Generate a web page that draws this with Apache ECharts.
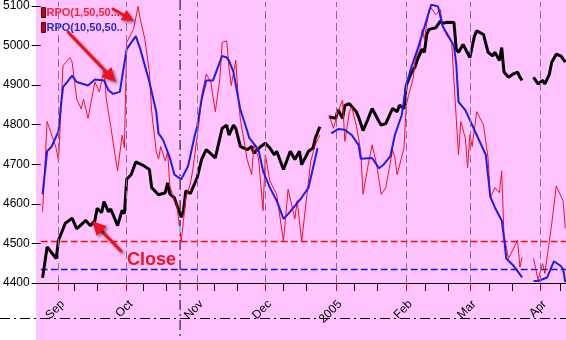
<!DOCTYPE html>
<html>
<head>
<meta charset="utf-8">
<script src="https://cdn.jsdelivr.net/npm/echarts@6/dist/echarts.min.js"></script>
<style>
  html, body { margin: 0; padding: 0; background: #ffffff; }
  #chart { width: 566px; height: 340px; background: linear-gradient(to right, #ffffff 36px, #ffc4ff 36px); }
</style>
</head>
<body>
<div id="chart"></div>
<script>
// ---- axis ticks and labels ----
const monthStarts = ['2004-09-01', '2004-10-01', '2004-11-01', '2004-12-01',
                     '2005-01-01', '2005-02-01', '2005-03-01', '2005-04-01'];
const minorTickDates = ['2004-09-10', '2004-09-20', '2004-10-10', '2004-10-20', '2004-11-10', '2004-11-20',
                        '2004-12-10', '2004-12-20', '2005-01-10', '2005-01-20', '2005-02-10', '2005-02-20',
                        '2005-03-10', '2005-03-20', '2005-04-10'];
const monthNames = ['Jan', 'Feb', 'Mar', 'Apr', 'May', 'Jun', 'Jul', 'Aug', 'Sep', 'Oct', 'Nov', 'Dec'];
const yTicks = [4400, 4500, 4600, 4700, 4800, 4900, 5000, 5100];

// ---- Close ----
const closeDates = [
  '2004-08-25', '2004-08-27', '2004-08-31',
  '2004-09-01', '2004-09-04', '2004-09-07', '2004-09-09', '2004-09-13', '2004-09-15', '2004-09-17', '2004-09-18', '2004-09-20', '2004-09-21', '2004-09-23', '2004-09-24', '2004-09-27', '2004-09-29', '2004-09-30',
  '2004-10-01', '2004-10-03', '2004-10-05', '2004-10-08', '2004-10-11', '2004-10-12', '2004-10-15', '2004-10-18', '2004-10-19', '2004-10-20', '2004-10-22', '2004-10-25', '2004-10-26', '2004-10-27', '2004-10-29',
  '2004-11-01', '2004-11-03', '2004-11-05', '2004-11-09', '2004-11-12', '2004-11-14', '2004-11-15', '2004-11-17', '2004-11-18', '2004-11-20', '2004-11-23', '2004-11-25', '2004-11-26', '2004-11-29',
  '2004-12-01', '2004-12-03', '2004-12-05', '2004-12-06', '2004-12-09', '2004-12-12', '2004-12-14', '2004-12-16', '2004-12-17', '2004-12-20', '2004-12-22', '2004-12-23', '2004-12-25', '2004-12-27', '2004-12-29',
  '2005-01-01', '2005-01-02', '2005-01-04', '2005-01-05', '2005-01-07', '2005-01-10', '2005-01-11', '2005-01-13', '2005-01-15', '2005-01-17', '2005-01-20', '2005-01-21', '2005-01-23', '2005-01-26', '2005-01-28', '2005-01-29', '2005-01-31',
  '2005-02-01', '2005-02-03', '2005-02-05', '2005-02-06', '2005-02-08', '2005-02-09', '2005-02-10', '2005-02-11', '2005-02-14', '2005-02-16', '2005-02-17', '2005-02-19', '2005-02-22', '2005-02-23', '2005-02-24', '2005-02-26',
  '2005-03-01', '2005-03-03', '2005-03-04', '2005-03-07', '2005-03-09', '2005-03-11', '2005-03-12', '2005-03-14', '2005-03-15', '2005-03-16', '2005-03-18', '2005-03-20', '2005-03-22', '2005-03-23', '2005-03-24', '2005-03-26', '2005-03-29', '2005-03-31',
  '2005-04-02', '2005-04-03', '2005-04-05', '2005-04-06', '2005-04-08', '2005-04-10', '2005-04-12'
];
const closeValues = [
  4413, 4491, 4462,
  4508, 4551, 4564, 4537, 4558, 4545, 4557, 4589, 4578, 4606, 4580, 4587, 4545, 4584, 4575,
  4662, 4674, 4706, 4698, 4687, 4641, 4623, 4628, 4653, 4625, 4615, 4566, 4583, 4633, 4626,
  4666, 4713, 4737, 4716, 4791, 4799, 4774, 4799, 4791, 4745, 4737, 4745, 4728, 4745,
  4753, 4741, 4724, 4733, 4687, 4733, 4712, 4733, 4699, 4733, 4741, 4766, 4795, null, 4820,
  4816, 4838, 4816, 4849, 4853, 4833, 4820, 4785, 4812, 4841, 4808, 4799, 4803, 4841, 4833, 4849, 4841,
  4899, 4928, 4948, 4966, 4991, 4983, 5028, 5041, 5045, 5062, 5056, 5059, 5058, 4991, 4983, 5003,
  4970, 5024, 5037, 5028, 4983, 4974, 4983, 4962, 4995, 4933, 4920, 4928, 4933, 4920, 4912, null, 4920, 4903,
  4912, 4903, 4928, 4958, 4978, 4974, 4958
];

// ---- RPO(1,50,50...) ----
const fastName = 'RPO(1,50,50...';
const fastDates = [
  '2004-08-25', '2004-08-27', '2004-08-29', '2004-08-31',
  '2004-09-01', '2004-09-03', '2004-09-06', '2004-09-07', '2004-09-09', '2004-09-11', '2004-09-12', '2004-09-14', '2004-09-17', '2004-09-19', '2004-09-21', '2004-09-22', '2004-09-24', '2004-09-27', '2004-09-29', '2004-09-30',
  '2004-10-01', '2004-10-04', '2004-10-06', '2004-10-07', '2004-10-09', '2004-10-11', '2004-10-12', '2004-10-14', '2004-10-15', '2004-10-16', '2004-10-18', '2004-10-19', '2004-10-20', '2004-10-22', '2004-10-23', '2004-10-25', '2004-10-26', '2004-10-27', '2004-10-29', '2004-10-30',
  '2004-11-02', '2004-11-03', '2004-11-05', '2004-11-07', '2004-11-09', '2004-11-11', '2004-11-12', '2004-11-14', '2004-11-15', '2004-11-16', '2004-11-18', '2004-11-19', '2004-11-20', '2004-11-23', '2004-11-25', '2004-11-26', '2004-11-28', '2004-11-30',
  '2004-12-01', '2004-12-03', '2004-12-06', '2004-12-09', '2004-12-11', '2004-12-14', '2004-12-15', '2004-12-17', '2004-12-19', '2004-12-21', '2004-12-23', '2004-12-25', '2004-12-27', '2004-12-29', '2004-12-31',
  '2005-01-02', '2005-01-04', '2005-01-05', '2005-01-07', '2005-01-08', '2005-01-10', '2005-01-12', '2005-01-13', '2005-01-15', '2005-01-17', '2005-01-19', '2005-01-21', '2005-01-23', '2005-01-26', '2005-01-27', '2005-01-28', '2005-01-31',
  '2005-02-01', '2005-02-02', '2005-02-04', '2005-02-05', '2005-02-07', '2005-02-08', '2005-02-09', '2005-02-11', '2005-02-12', '2005-02-14', '2005-02-16', '2005-02-17', '2005-02-19', '2005-02-21', '2005-02-23', '2005-02-24', '2005-02-25', '2005-02-27', '2005-02-28',
  '2005-03-01', '2005-03-02', '2005-03-04', '2005-03-07', '2005-03-09', '2005-03-10', '2005-03-12', '2005-03-14', '2005-03-15', '2005-03-16', '2005-03-18', '2005-03-22', '2005-03-23', '2005-03-24', '2005-03-26', '2005-03-29', '2005-03-31',
  '2005-04-02', '2005-04-03', '2005-04-05', '2005-04-06', '2005-04-08', '2005-04-11', '2005-04-12'
];
const fastValues = [
  4580, 4808, 4774, 4740,
  4708, 4949, 4970, 4958, 4865, 4840, 4865, 4816, 4908, 4883, 4941, 4866, 4795, 4683, 4774, 4741,
  5008, 5041, 5099, 5066, 5016, 4933, 4833, 4733, 4713, 4745, 4708, 4733, 4645, 4608, 4600, 4505, 4558, 4615, 4650, 4683,
  4813, 4874, 4928, 4908, 4833, 4916, 5008, 5012, 4945, 4899, 4963, 4874, 4815, 4712, 4674, 4749, 4716, 4583,
  4724, 4658, 4624, 4505, 4637, 4562, 4608, 4505, 4608, 4708, 4749, 4774, null, 4824, 4791,
  4833, 4862, 4758, 4833, 4845, 4799, 4733, 4624, 4691, 4749, 4699, 4624, 4641, 4737, 4716, 4674, 4741,
  4849, 4874, 4916, 4966, 4991, 5041, 5016, 5091, 5095, 5078, 5091, 5049, 5024, 5008, 4816, 4724, 4808, 4766, 4691,
  4774, 4745, 4833, 4799, 4716, 4616, 4641, 4628, 4683, 4520, 4462, 4508, 4440, 4465, null, 4462, 4408,
  4449, 4424, 4508, 4549, 4645, 4608, 4538
];

// ---- RPO(10,50,50..) ----
const slowName = 'RPO(10,50,50..';
const slowDates = [
  '2004-08-25', '2004-08-27', '2004-08-29',
  '2004-09-01', '2004-09-02', '2004-09-03', '2004-09-07', '2004-09-09', '2004-09-14', '2004-09-17', '2004-09-21', '2004-09-23', '2004-09-25', '2004-09-28', '2004-09-29',
  '2004-10-01', '2004-10-05', '2004-10-07', '2004-10-11', '2004-10-14', '2004-10-15', '2004-10-17', '2004-10-20', '2004-10-22', '2004-10-25', '2004-10-28', '2004-10-31',
  '2004-11-01', '2004-11-03', '2004-11-05', '2004-11-08', '2004-11-12', '2004-11-14', '2004-11-15', '2004-11-17', '2004-11-20', '2004-11-22', '2004-11-24', '2004-11-28', '2004-11-30',
  '2004-12-03', '2004-12-06', '2004-12-09', '2004-12-11', '2004-12-14', '2004-12-17', '2004-12-20', '2004-12-22', '2004-12-24', '2004-12-27', '2004-12-30',
  '2005-01-02', '2005-01-05', '2005-01-08', '2005-01-11', '2005-01-12', '2005-01-17', '2005-01-20', '2005-01-22', '2005-01-25', '2005-01-27', '2005-01-30',
  '2005-02-01', '2005-02-03', '2005-02-06', '2005-02-08', '2005-02-10', '2005-02-12', '2005-02-15', '2005-02-17', '2005-02-20', '2005-02-22', '2005-02-23', '2005-02-24', '2005-02-27',
  '2005-03-01', '2005-03-04', '2005-03-08', '2005-03-10', '2005-03-12', '2005-03-15', '2005-03-16', '2005-03-17', '2005-03-20', '2005-03-24', '2005-03-26', '2005-03-29', '2005-03-31',
  '2005-04-04', '2005-04-07', '2005-04-10', '2005-04-11', '2005-04-12'
];
const slowValues = [
  4624, 4733, 4745,
  4783, 4845, 4895, 4924, 4908, 4899, 4914, 4912, 4887, 4878, 4883, 4920,
  4991, 5024, 4991, 4908, 4833, 4778, 4762, 4716, 4674, 4662, 4695, 4774,
  4795, 4865, 4912, 4912, 4974, 4970, 4962, 4933, 4838, 4803, 4766, 4737, 4683,
  4641, 4608, 4562, 4574, 4595, 4616, 4641, 4691, 4741, null, 4778,
  4789, 4787, 4774, 4749, 4714, 4716, 4690, 4699, 4720, 4774, 4824,
  4899, 4941, 4991, 5028, 5066, 5103, 5099, 5049, 5020, 4999, 4953, 4858, 4837,
  4812, 4774, 4724, 4618, 4591, 4558, 4516, 4462, 4445, 4414, null, 4405, 4405,
  4414, 4455, 4443, 4435, 4402
];

// floor levels of the two oscillators
const fastFloor = 4505;
const slowFloor = 4434;
// cursor position
const cursorTime = '2004-10-24 12';

const FONT = '"Liberation Sans", Arial, Helvetica, sans-serif';
const RED = '#f01020';
const BLUE = '#1c1cf0';

function ts(s) {
  const [datePart, hourPart] = s.split(' ');
  const [y, m, d] = datePart.split('-').map(Number);
  return new Date(y, m - 1, d, hourPart ? Number(hourPart) : 0).getTime();
}
function pairs(dates, values) {
  return dates.map((d, i) => [ts(d), values[i]]);
}

const xMin = new Date(2004, 7, 24, 4).getTime();
const xMax = new Date(2005, 3, 12, 7).getTime();
const monthTs = monthStarts.map(ts);
const minorTs = minorTickDates.map(ts);

// horizontal level drawn as a white base with a coloured dash on top
function levelSeries(value, color) {
  const span = [[xMin, value], [xMax, value]];
  const base = { type: 'line', xAxisIndex: 0, yAxisIndex: 0, silent: true, showSymbol: false,
                 symbol: 'none', animation: false, data: span };
  return [
    Object.assign({}, base, { name: 'level-base', lineStyle: { color: '#ffffff', width: 1 } }),
    Object.assign({}, base, { name: 'level', lineStyle: { color: color, width: 1.4, type: [7, 3] } })
  ];
}

const chart = echarts.init(document.getElementById('chart'), null, { renderer: 'canvas' });

const gridBox = { left: 36, right: 0, top: 0, bottom: 57, containLabel: false };

chart.setOption({
  animation: false,
  backgroundColor: 'transparent',
  grid: [Object.assign({}, gridBox), Object.assign({}, gridBox)],
  legend: {
    left: 36, top: 2, orient: 'vertical', itemGap: 4,
    itemWidth: 4, itemHeight: 10, icon: 'rect', selectedMode: false,
    textStyle: { fontSize: 11, fontWeight: 'bold', fontFamily: FONT, padding: [0, 0, 0, -4] },
    data: [
      { name: fastName, itemStyle: { color: '#c8001a', borderColor: '#4a0000', borderWidth: 1 }, textStyle: { color: '#ff1a3a' } },
      { name: slowName, itemStyle: { color: '#c8001a', borderColor: '#4a0000', borderWidth: 1 }, textStyle: { color: '#2828d8' } }
    ]
  },
  xAxis: [
    {
      // dates as millisecond timestamps on a linear scale
      type: 'value', gridIndex: 0, min: xMin, max: xMax, scale: true,
      axisLine: { show: true, lineStyle: { color: '#000000', width: 1 } },
      axisTick: { show: true, customValues: monthTs, length: 8, lineStyle: { color: '#c8001a', width: 1 } },
      axisLabel: {
        show: true, customValues: monthTs, rotate: 45, margin: 15,
        align: 'right', verticalAlign: 'top',
        color: '#000000', fontSize: 12, fontFamily: FONT,
        formatter: function (v) {
          const d = new Date(v);
          return d.getMonth() === 0 ? String(d.getFullYear()) : monthNames[d.getMonth()];
        }
      },
      splitLine: { show: false }
    },
    {
      type: 'value', gridIndex: 1, min: xMin, max: xMax, scale: true,
      axisLine: { show: false },
      axisTick: { show: true, customValues: minorTs, length: 8, lineStyle: { color: '#000000', width: 1 } },
      axisLabel: { show: false },
      splitLine: { show: false }
    }
  ],
  yAxis: [
    {
      type: 'value', gridIndex: 0, min: 4400, max: 5110, interval: 100,
      axisLine: { show: false },
      axisTick: { show: true, customValues: yTicks, length: 9, lineStyle: { color: '#000000', width: 1 } },
      axisLabel: {
        show: true, customValues: yTicks, margin: 11, color: '#000000', fontSize: 12, fontFamily: FONT,
        formatter: function (v) { return String(v); }
      },
      splitLine: { show: false }
    },
    { type: 'value', gridIndex: 1, min: 4400, max: 5110, show: false }
  ],
  series: [
    {
      // month grid lines
      name: 'months', type: 'line', xAxisIndex: 0, yAxisIndex: 0, data: [], silent: true,
      markLine: {
        silent: true, symbol: ['none', 'none'], label: { show: false },
        lineStyle: { color: '#86709a', type: [8, 4], width: 1 },
        data: monthTs.map(t => ({ xAxis: t }))
      }
    }
  ]
    .concat(levelSeries(fastFloor, '#ff0010'))
    .concat(levelSeries(slowFloor, '#1010f0'))
    .concat([
      {
        name: 'Close', type: 'line', xAxisIndex: 0, yAxisIndex: 0,
        data: pairs(closeDates, closeValues), showSymbol: false, connectNulls: false,
        lineStyle: { color: '#000000', width: 3 }, itemStyle: { color: '#000000' }
      },
      {
        name: fastName, type: 'line', xAxisIndex: 0, yAxisIndex: 0,
        data: pairs(fastDates, fastValues), showSymbol: false, connectNulls: false,
        lineStyle: { color: RED, width: 1 }, itemStyle: { color: RED }
      },
      {
        name: slowName, type: 'line', xAxisIndex: 0, yAxisIndex: 0,
        data: pairs(slowDates, slowValues), showSymbol: false, connectNulls: false,
        lineStyle: { color: BLUE, width: 2 }, itemStyle: { color: BLUE }
      }
    ])
});

// ---- cursor lines and callouts ----
const shadow = { shadowBlur: 3, shadowColor: 'rgba(0,0,0,0.45)', shadowOffsetX: 2, shadowOffsetY: 2 };
function arrow(tail, tip, headLen, halfW, width) {
  const dx = tip[0] - tail[0], dy = tip[1] - tail[1];
  const L = Math.hypot(dx, dy), ux = dx / L, uy = dy / L;
  const bx = tip[0] - ux * headLen, by = tip[1] - uy * headLen;
  const px = -uy * halfW, py = ux * halfW;
  return [
    { type: 'line', z: 100, shape: { x1: tail[0], y1: tail[1], x2: bx + ux * 2, y2: by + uy * 2 },
      style: Object.assign({ stroke: RED, lineWidth: width, lineCap: 'round' }, shadow) },
    { type: 'polygon', z: 100, shape: { points: [[tip[0], tip[1]], [bx + px, by + py], [bx - px, by - py]] },
      style: Object.assign({ fill: RED }, shadow) }
  ];
}

const cx = chart.convertToPixel({ xAxisIndex: 0 }, ts(cursorTime));
const graphics = [
  { type: 'line', z: 90, shape: { x1: cx, y1: 0, x2: cx, y2: 340 },
    style: { stroke: '#000000', lineWidth: 1, lineDash: [10, 4, 2, 4] } },
  { type: 'line', z: 90, shape: { x1: 0, y1: 318.5, x2: 566, y2: 318.5 },
    style: { stroke: '#000000', lineWidth: 1, lineDash: [10, 4, 2, 4] } },
  { type: 'line', z: 91, shape: { x1: cx, y1: 226, x2: cx, y2: 232 },
    style: { stroke: '#40e0ff', lineWidth: 2 } }
]
  .concat(arrow([121, 251], [92, 221], 14, 7, 3))
  .concat(arrow([68, 32], [116, 82], 14, 7, 3))
  .concat(arrow([113, 9], [134, 21], 12, 6, 3))
  .concat([{
    type: 'text', z: 100, x: 127, y: 251,
    style: Object.assign({ text: 'Close', fill: RED, font: 'bold 18px ' + FONT, textVerticalAlign: 'top' }, shadow)
  }]);

chart.setOption({ graphic: graphics });
</script>
</body>
</html>
